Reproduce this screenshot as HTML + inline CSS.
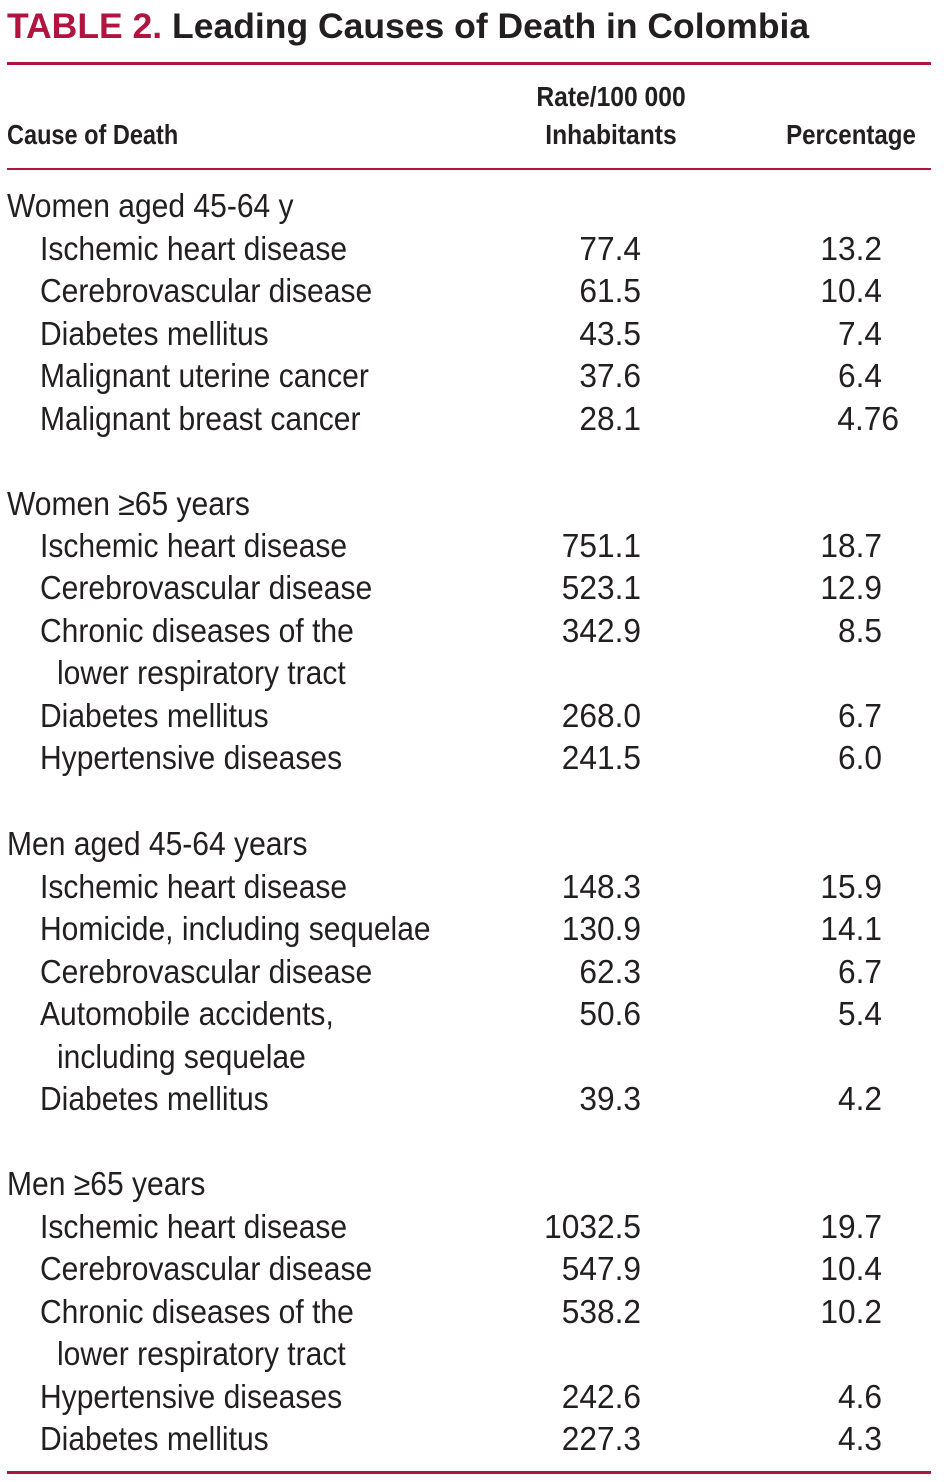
<!DOCTYPE html>
<html><head><meta charset="utf-8">
<style>
html,body{margin:0;padding:0;background:#fff;}
body{width:947px;height:1482px;position:relative;overflow:hidden;color:#231f20;}
.t{position:absolute;white-space:nowrap;font-family:"Liberation Sans Narrow","Liberation Sans",sans-serif;font-size:33px;line-height:40px;transform:scaleX(0.91);transform-origin:left center;}
.r{text-align:right;transform:scaleX(0.96);transform-origin:right center;}
.h{font-weight:bold;font-size:28px;}
.hc{transform:scaleX(0.84);transform-origin:center center;}
.rule{position:absolute;left:7px;width:924px;background:#b0153f;}
#title{position:absolute;left:7px;top:6px;font-family:"Liberation Sans",sans-serif;font-weight:bold;font-size:35.5px;line-height:40px;white-space:nowrap;}
</style></head>
<body>
<div id="title"><span style="color:#b0153f">TABLE 2.</span> Leading Causes of Death in Colombia</div>
<div class="rule" style="top:62px;height:3px"></div>
<div class="t h" style="left:7px;top:115px;transform:scaleX(0.84)">Cause of Death</div>
<div class="t h hc" style="left:511px;width:200px;text-align:center;top:77px;transform:scaleX(0.88)">Rate/100 000</div>
<div class="t h hc" style="left:511px;width:200px;text-align:center;top:115px;transform:scaleX(0.88)">Inhabitants</div>
<div class="t h hc" style="left:751px;width:200px;text-align:center;top:115px;transform:scaleX(0.86)">Percentage</div>
<div class="rule" style="top:168px;height:2px"></div>
<div id="rows"></div>
<div class="rule" style="top:1471px;height:3px"></div>
<script>
const rowCenters=[206,249,291,334,376,419,504,546,588,631,673,716,758,844,887,929,972,1014,1057,1099,1184,1227,1269,1312,1354,1397,1439];
const labels=["Women aged 45-64 y","Ischemic heart disease","Cerebrovascular disease","Diabetes mellitus","Malignant uterine cancer","Malignant breast cancer",
"Women \u226565 years","Ischemic heart disease","Cerebrovascular disease","Chronic diseases of the","lower respiratory tract","Diabetes mellitus","Hypertensive diseases",
"Men aged 45-64 years","Ischemic heart disease","Homicide, including sequelae","Cerebrovascular disease","Automobile accidents,","including sequelae","Diabetes mellitus",
"Men \u226565 years","Ischemic heart disease","Cerebrovascular disease","Chronic diseases of the","lower respiratory tract","Hypertensive diseases","Diabetes mellitus"];
const levels=[0,1,1,1,1,1,0,1,1,1,2,1,1,0,1,1,1,1,2,1,0,1,1,1,2,1,1];
const rates=["","77.4","61.5","43.5","37.6","28.1","","751.1","523.1","342.9","","268.0","241.5","","148.3","130.9","62.3","50.6","","39.3","","1032.5","547.9","538.2","","242.6","227.3"];
const pcts=["","13.2","10.4","7.4","6.4","4.76","","18.7","12.9","8.5","","6.7","6.0","","15.9","14.1","6.7","5.4","","4.2","","19.7","10.4","10.2","","4.6","4.3"];
const indent=[7,40,57];
const c=document.getElementById('rows');
for(let i=0;i<labels.length;i++){
  const top=rowCenters[i]-20;
  const a=document.createElement('div');a.className='t';
  a.style.left=indent[levels[i]]+'px';a.style.top=top+'px';a.textContent=labels[i];
  
  
  c.appendChild(a);
  if(rates[i]){
    const b=document.createElement('div');b.className='t r';
    b.style.left='441px';b.style.width='200px';b.style.top=top+'px';b.textContent=rates[i];
    
    
    c.appendChild(b);
  }
  if(pcts[i]){
    const d=document.createElement('div');d.className='t r';
    const dec=pcts[i].split('.')[1].length;
    const right=882+(dec-1)*17;
    d.style.left=(right-200)+'px';d.style.width='200px';d.style.top=top+'px';d.textContent=pcts[i];
    
    
    c.appendChild(d);
  }
}
</script>
</body></html>
